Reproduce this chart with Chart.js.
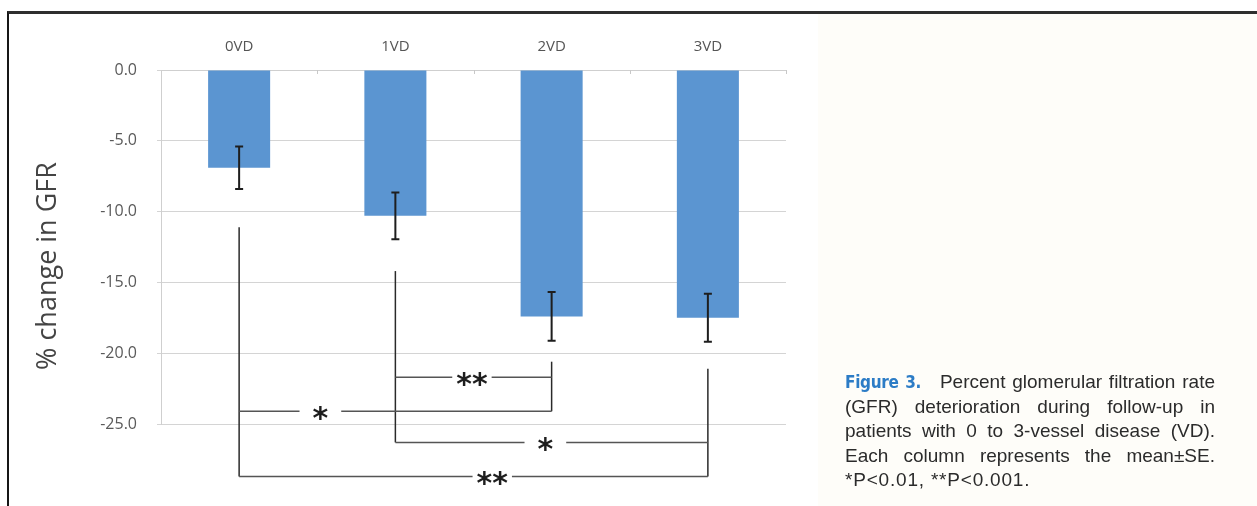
<!DOCTYPE html>
<html>
<head>
<meta charset="utf-8">
<script src="https://cdn.jsdelivr.net/npm/chart.js@4.4.1/dist/chart.umd.min.js"></script>
<style>
  html, body { margin: 0; padding: 0; background: #fff; }
  #wrap { position: relative; width: 1257px; height: 506px; overflow: hidden; background: #fff; }
  #tint { position: absolute; left: 818px; top: 14px; right: 0; bottom: 0; background: #fefdf9; }
  #chart { position: absolute; left: 0; top: 0; }
  #frame { position: absolute; left: 7px; top: 11px; right: -6px; bottom: -6px;
           border-left: 2px solid #161616; border-top: 3px solid #2e2e2e; pointer-events: none; }
  #caption { position: absolute; left: 845px; top: 370px; width: 370px;
             font: 19px/24.5px "Liberation Sans", Arial, sans-serif; color: #2b2b2b; }
  #caption .ln { text-align: justify; text-align-last: justify; white-space: nowrap; }
  #caption .ln.last { text-align-last: left; letter-spacing: 0.8px; }
  #caption .fig { font-family: "Liberation Sans Narrow", "DejaVu Sans Condensed", sans-serif;
                  font-weight: bold; font-size: 17px; letter-spacing: -0.3px; color: #2c7cc6;
                  margin-right: 12px; }
</style>
</head>
<body>
<div id="wrap">
  <div id="tint"></div>
  <canvas id="chart" width="1257" height="506"></canvas>
  <div id="caption">
    <div class="ln"><span class="fig">Figure 3.</span> Percent glomerular filtration rate</div>
    <div class="ln">(GFR) deterioration during follow-up in</div>
    <div class="ln">patients with 0 to 3-vessel disease (VD).</div>
    <div class="ln">Each column represents the mean±SE.</div>
    <div class="ln last">*P&lt;0.01, **P&lt;0.001.</div>
  </div>
  <div id="frame"></div>
</div>
<script>
// groups and % change in GFR (mean, SE)
const categories = ["0VD", "1VD", "2VD", "3VD"];
const meanChange = [-6.9, -10.3, -17.4, -17.5];
const seChange = [1.5, 1.65, 1.72, 1.7];

// y axis range / ticks
const yMin = -25;
const yMax = 0;
const yStep = 5;

// significance brackets: [from group, to group, level (% units), label, star position along bracket]
const legTops = [-11.1, -14.2, -20.6, -21.1];
const bracketFrom = [1, 0, 1, 0];
const bracketTo = [2, 2, 3, 3];
const bracketLevel = [-21.7, -24.1, -26.3, -28.7];
const bracketLabel = ["**", "*", "*", "**"];
const bracketStarAt = [0.49, 0.26, 0.48, 0.54];

const barBlue = "#5b95d1";

const overlay = {
  id: "overlay",
  afterDatasetsDraw(chart) {
    const { ctx, scales: { x, y }, chartArea } = chart;
    ctx.save();

    // small tick marks between categories along the top axis
    ctx.strokeStyle = "#c8c8c8";
    ctx.lineWidth = 1;
    for (let i = 0; i < categories.length; i++) {
      const px = Math.round(x.getPixelForValue(i + 0.5)) + 0.5;
      ctx.beginPath();
      ctx.moveTo(px, chartArea.top);
      ctx.lineTo(px, chartArea.top + 4);
      ctx.stroke();
    }

    // error bars (mean ± SE)
    ctx.strokeStyle = "#1e1e1e";
    ctx.lineWidth = 2;
    meanChange.forEach((m, i) => {
      const cx = x.getPixelForValue(i);
      const hi = y.getPixelForValue(m + seChange[i]);
      const lo = y.getPixelForValue(m - seChange[i]);
      ctx.beginPath();
      ctx.moveTo(cx, hi); ctx.lineTo(cx, lo);
      ctx.moveTo(cx - 4, hi); ctx.lineTo(cx + 4, hi);
      ctx.moveTo(cx - 4, lo); ctx.lineTo(cx + 4, lo);
      ctx.stroke();
    });

    // bracket legs go from each group's top down to its lowest bracket
    ctx.strokeStyle = "#2a2a2a";
    ctx.lineWidth = 1.5;
    legTops.forEach((top, i) => {
      const levels = bracketLevel.filter((_, k) => bracketFrom[k] === i || bracketTo[k] === i);
      const bottom = Math.min(...levels);
      const cx = x.getPixelForValue(i);
      ctx.beginPath();
      ctx.moveTo(cx, y.getPixelForValue(top));
      ctx.lineTo(cx, y.getPixelForValue(bottom));
      ctx.stroke();
    });

    // horizontal bracket lines with star labels
    ctx.font = "bold 30px 'DejaVu Sans', sans-serif";
    ctx.textAlign = "center";
    ctx.textBaseline = "middle";
    bracketLevel.forEach((lvl, k) => {
      const x0 = x.getPixelForValue(bracketFrom[k]);
      const x1 = x.getPixelForValue(bracketTo[k]);
      const py = y.getPixelForValue(lvl);
      const sx = x0 + (x1 - x0) * bracketStarAt[k];
      const label = bracketLabel[k];
      const w = ctx.measureText(label).width;
      const gap = w / 2 + (label.length === 1 ? 13 : 4);
      ctx.strokeStyle = "#555";
      ctx.beginPath();
      ctx.moveTo(x0, py); ctx.lineTo(sx - gap, py);
      ctx.moveTo(sx + gap, py); ctx.lineTo(x1, py);
      ctx.stroke();
      ctx.fillStyle = "#1e1e1e";
      ctx.fillText(label, sx, py + 9);
    });

    // y axis title
    ctx.translate(48, 266);
    ctx.rotate(-Math.PI / 2);
    ctx.font = "27px 'Open Sans', sans-serif";
    ctx.fillStyle = "#444";
    ctx.fillText("% change in GFR", 0, 0);
    ctx.restore();
  }
};

new Chart(document.getElementById("chart"), {
  type: "bar",
  data: {
    labels: categories,
    datasets: [{
      data: meanChange,
      backgroundColor: barBlue,
      borderWidth: 0,
      categoryPercentage: 1,
      barPercentage: 0.397
    }]
  },
  options: {
    responsive: false,
    animation: false,
    layout: { padding: { left: 0, top: 0, right: 471, bottom: 82 } },
    plugins: { legend: { display: false }, tooltip: { enabled: false } },
    scales: {
      x: {
        position: "top",
        grid: { display: false },
        border: { color: "#cfcfcf" },
        ticks: { color: "#555", font: { family: "Open Sans", size: 15 }, padding: 6 },
        afterFit(s) { s.height = 70; }
      },
      y: {
        min: yMin,
        max: yMax,
        ticks: {
          stepSize: yStep,
          color: "#5a5a5a",
          font: { family: "Open Sans", size: 16 },
          padding: 20,
          callback: (v) => v.toFixed(1)
        },
        grid: { color: "#d4d4d4", tickLength: 4 },
        border: { color: "#cfcfcf" },
        afterFit(s) { s.width = 161; }
      }
    }
  },
  plugins: [overlay]
});
</script>
</body>
</html>
